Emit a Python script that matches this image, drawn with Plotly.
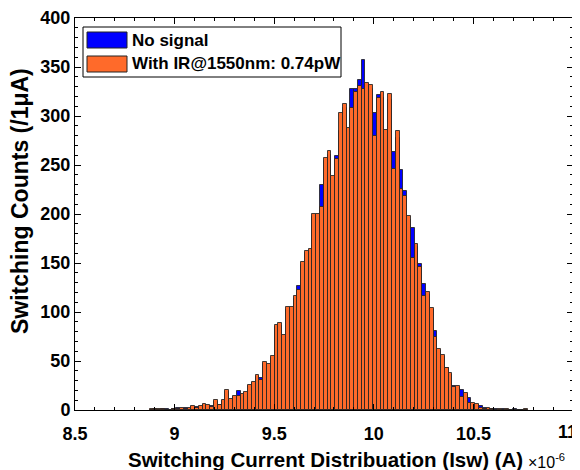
import plotly.graph_objects as go

# Histogram bins (x in units of 1e-6 A)
BIN_LEFT = 8.875
BIN_WIDTH = 0.0190
N_BINS = 100

counts_ir = [
    1, 1, 1, 1, 0, 0, 1, 1, 2, 1,
    2, 4, 2, 4, 6, 5, 3, 10, 5, 10,
    20, 11, 14, 14, 16, 18, 26, 29, 36, 31,
    49, 47, 55, 87, 89, 77, 105, 105, 116, 122,
    151, 162, 164, 200, 200, 207, 257, 264, 239, 256,
    303, 312, 288, 308, 324, 331, 328, 334, 332, 280,
    318, 324, 286, 322, 246, 285, 226, 218, 198, 155,
    169, 146, 116, 120, 104, 74, 62, 56, 43, 38,
    23, 24, 13, 17, 7, 7, 6, 2, 1, 2,
    1, 0, 1, 0, 1, 0, 0, 0, 0, 1,
]

counts_nosig = [
    0, 1, 0, 1, 1, 0, 1, 2, 1, 2,
    1, 3, 3, 3, 5, 4, 4, 8, 5, 9,
    18, 10, 13, 19, 15, 17, 24, 28, 34, 33,
    47, 45, 53, 85, 86, 75, 102, 103, 113, 127,
    148, 160, 161, 197, 198, 230, 254, 260, 236, 259,
    285, 308, 287, 328, 328, 337, 357, 330, 328, 303,
    321, 318, 282, 316, 263, 278, 245, 223, 194, 186,
    166, 149, 129, 117, 102, 81, 60, 54, 43, 36,
    24, 22, 20, 15, 12, 6, 5, 4, 2, 1,
    1, 1, 0, 1, 0, 0, 1, 0, 0, 0,
]

bin_centers = [BIN_LEFT + BIN_WIDTH * (i + 0.5) for i in range(N_BINS)]

legend_labels = ["No signal", "With IR@1550nm: 0.74pW"]
x_title = "Switching Current Distribuation (Isw) (A)"
y_title = "Switching Counts (/1\u03bcA)"
x_tickvals = [8.5, 9, 9.5, 10, 10.5, 11]
x_ticktext = ["8.5", "9", "9.5", "10", "10.5", "11"]

BLUE = "#0000FF"
ORANGE = "#FF6A2A"
EDGE = "rgba(35,35,35,0.85)"
FONT = "Liberation Sans, Arial, sans-serif"

fig = go.Figure()
fig.add_trace(go.Bar(x=bin_centers, y=counts_nosig, width=BIN_WIDTH,
                     marker=dict(color=BLUE, line=dict(color=EDGE, width=1)),
                     name=legend_labels[0]))
fig.add_trace(go.Bar(x=bin_centers, y=counts_ir, width=BIN_WIDTH,
                     marker=dict(color=ORANGE, line=dict(color=EDGE, width=1)),
                     name=legend_labels[1]))

# page has an 8px body margin: compensate so the plot area lands at
# page x 75..573, y 18..410
OFF = 8
W, H = 580 - OFF, 470 - OFF
PL, PR, PT, PB = 75, 573, 18, 410     # plot area in page pixels
L, T = PL - OFF, PT - OFF
R = 580 - PR
B = 470 - PB
pw, ph = PR - PL, PB - PT

def px(xp):
    return (xp - PL) / pw

def py(yp):
    return (PB - yp) / ph

tickfont = dict(family=FONT, size=18, color="black", weight="bold")
axis_common = dict(
    showline=True, linecolor="black", linewidth=1, mirror="ticks",
    ticks="inside", ticklen=6, tickcolor="black", tickwidth=1,
    showgrid=False, zeroline=False, tickfont=tickfont,
)

# last x tick label would be clipped at the page edge: draw it as an annotation
shown_ticktext = x_ticktext[:-1] + [""]

fig.update_layout(
    width=W, height=H,
    margin=dict(l=L, r=R, t=T, b=B, autoexpand=False),
    paper_bgcolor="white", plot_bgcolor="white",
    barmode="overlay", bargap=0,
    showlegend=False,
    xaxis=dict(range=[8.5, 11], tickvals=x_tickvals, ticktext=shown_ticktext,
               ticklabelstandoff=7,
               minor=dict(dtick=0.1, ticks="inside", ticklen=3, tickcolor="black"),
               **axis_common),
    yaxis=dict(range=[0, 400], dtick=50,
               minor=dict(dtick=10, ticks="inside", ticklen=3, tickcolor="black"),
               **axis_common),
)

# Custom legend box
shapes = [
    dict(type="rect", xref="paper", yref="paper",
         x0=px(83), x1=px(341), y0=py(77), y1=py(27),
         line=dict(color="black", width=1), fillcolor="white", layer="above"),
    dict(type="rect", xref="paper", yref="paper",
         x0=px(87), x1=px(127), y0=py(48), y1=py(32),
         line=dict(color="#222", width=1), fillcolor=BLUE, layer="above"),
    dict(type="rect", xref="paper", yref="paper",
         x0=px(87), x1=px(127), y0=py(72), y1=py(56),
         line=dict(color="#222", width=1), fillcolor=ORANGE, layer="above"),
]
fig.update_layout(shapes=shapes)

ann = [
    dict(text=legend_labels[0], xref="paper", yref="paper", x=px(130), y=py(40),
         xanchor="left", yanchor="middle", showarrow=False,
         font=dict(family=FONT, size=17, color="black", weight="bold")),
    dict(text=legend_labels[1], xref="paper", yref="paper", x=px(130), y=py(64),
         xanchor="left", yanchor="middle", showarrow=False,
         font=dict(family=FONT, size=17, color="black", weight="bold")),
    dict(text=x_ticktext[-1], xref="paper", yref="paper", x=px(579), y=py(432),
         xanchor="right", yanchor="middle", showarrow=False, font=tickfont),
    dict(text=x_title, xref="paper", yref="paper", x=px(325), y=py(459),
         xanchor="center", yanchor="middle", showarrow=False,
         font=dict(family=FONT, size=20.5, color="black", weight="bold")),
    dict(text="\u00d710<sup>-6</sup>", xref="paper", yref="paper", x=px(526), y=py(461),
         xanchor="left", yanchor="middle", showarrow=False,
         font=dict(family=FONT, size=16, color="black")),
    dict(text=y_title, xref="paper", yref="paper", x=px(20), y=py(201),
         xanchor="center", yanchor="middle", showarrow=False, textangle=-90,
         font=dict(family=FONT, size=23, color="black", weight="bold")),
]
fig.update_layout(annotations=ann)

fig.write_html("out.html")
